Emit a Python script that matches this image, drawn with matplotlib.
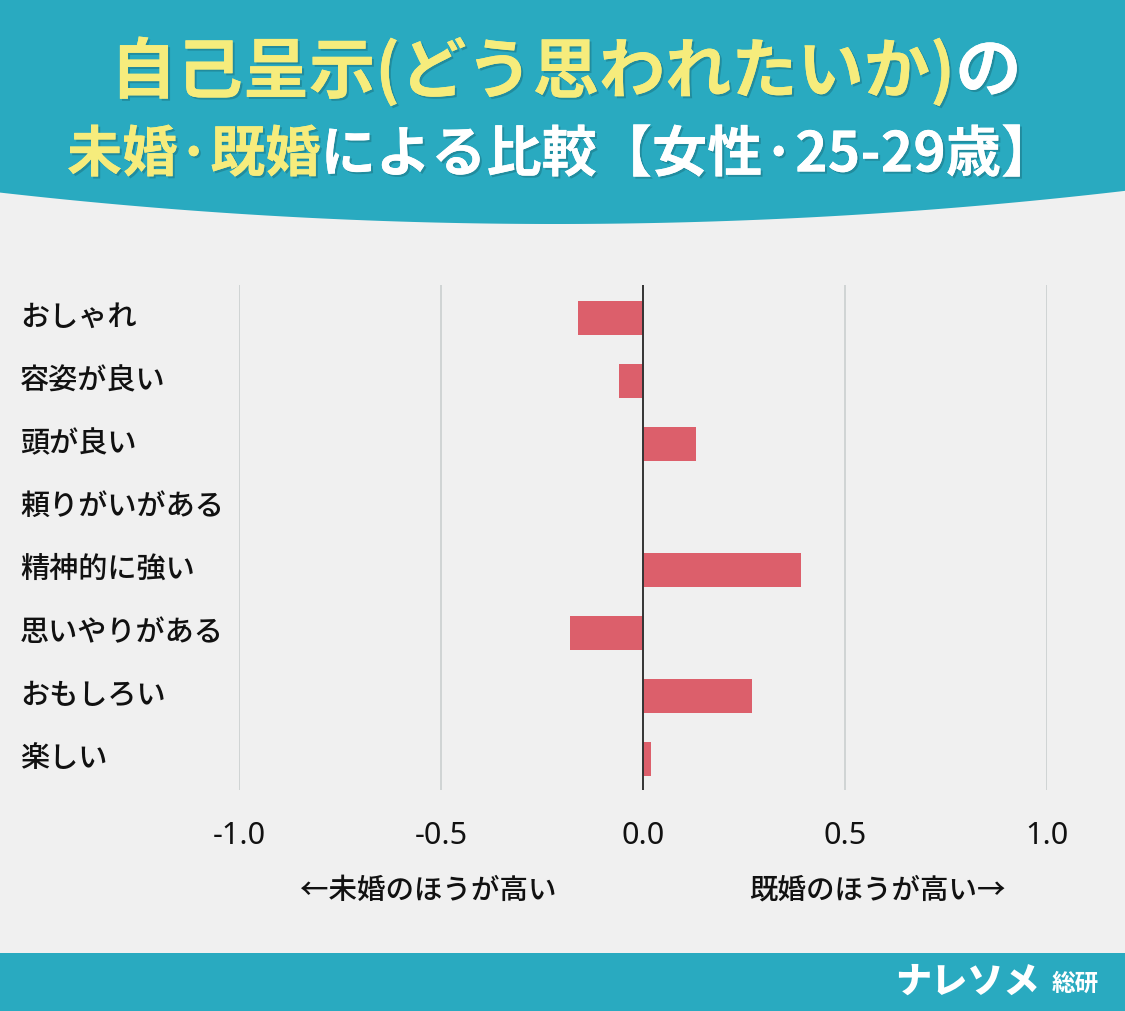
import matplotlib.pyplot as plt
import matplotlib.patheffects as pe
import numpy as np

plt.rcParams['font.family'] = ['Noto Sans CJK JP', 'DejaVu Sans']

# data
labels = ['おしゃれ', '容姿が良い', '頭が良い', '頼りがいがある',
          '精神的に強い', '思いやりがある', 'おもしろい', '楽しい']
values = [-0.16, -0.06, 0.13, 0.0, 0.39, -0.18, 0.27, 0.02]
xticks = [-1.0, -0.5, 0.0, 0.5, 1.0]
xtick_labels = ['-1.0', '-0.5', '0.0', '0.5', '1.0']

title1 = [('自己呈示(どう思われたいか)', '#F6EC7C'), ('の', 'white')]
title2 = [('未婚·既婚', '#F6EC7C'), ('による比較【女性·25-29歳】', 'white')]

W, H = 1125, 1011
bg = '#F0F0F0'
teal = '#29AAC0'
bar_color = '#DC5F6B'
ink = '#111111'

fig = plt.figure(figsize=(W / 100, H / 100), dpi=100, facecolor=bg)

# background layer in pixel coords
bgax = fig.add_axes([0, 0, 1, 1], zorder=0)
bgax.set_xlim(0, W)
bgax.set_ylim(H, 0)
bgax.axis('off')
bgax.set_facecolor(bg)

xs = np.linspace(0, W, 200)
curve = 224 - 32 * ((xs - 555) / 560) ** 2
bgax.fill_between(xs, 0, curve, color=teal, lw=0)
bgax.fill_between([0, W], 953, H, color=teal, lw=0)

# logo
bgax.text(1040, 982, 'ナレソメ', fontsize=26, fontweight='black',
          color='white', ha='right', va='center', style='italic')
bgax.text(1099, 984, '総研', fontsize=17, fontweight='bold',
          color='white', ha='right', va='center')

fig.canvas.draw()
renderer = fig.canvas.get_renderer()
shadow = [pe.withSimplePatchShadow(offset=(1.5, -1.5), shadow_rgbFace='#1a6f7d', alpha=0.5), pe.Normal()]


def draw_line(parts, cx, y, size, target_w):
    ts = []
    for s, c in parts:
        t = bgax.text(0, y, s, fontsize=size, fontweight='bold', color=c,
                      ha='left', va='center', path_effects=shadow)
        ts.append(t)
    widths = [t.get_window_extent(renderer).width for t in ts]
    scale = target_w / sum(widths)
    for t in ts:
        t.set_fontsize(size * scale)
    fig.canvas.draw()
    widths = [t.get_window_extent(renderer).width for t in ts]
    x = cx - sum(widths) / 2
    for t, w in zip(ts, widths):
        t.set_x(x)
        x += w


draw_line(title1, 566, 72, 40, 910)
draw_line(title2, 562, 155, 40, 988)

# chart axes
ax = fig.add_axes([239 / W, 1 - 790 / H, 808 / W, 505 / H], zorder=2)
ax.set_facecolor('none')
y = np.arange(len(labels))
ax.barh(y, values, height=0.54, color=bar_color, zorder=3)
ax.set_xlim(-1.0, 1.0)
ax.set_ylim(len(labels) - 0.5, -0.52)
for xv in xticks:
    if xv == 0:
        ax.axvline(xv, color='#333333', lw=1.4, zorder=4)
    else:
        ax.axvline(xv, color='#CDD1D1', lw=1.3, zorder=1)
for s in ax.spines.values():
    s.set_visible(False)
ax.set_yticks([])
ax.set_xticks(xticks)
ax.set_xticklabels(xtick_labels, fontsize=22, color=ink, family='Noto Sans')
ax.tick_params(axis='x', length=0, pad=22)

for i, lab in enumerate(labels):
    bgax.text(20, 317.5 + i * 63.0, lab, fontsize=21, fontweight='medium',
              color=ink, ha='left', va='center')

bgax.text(300, 890, '←未婚のほうが高い', fontsize=20.5, fontweight='medium',
          color=ink, ha='left', va='center')
bgax.text(1006, 890, '既婚のほうが高い→', fontsize=20.5, fontweight='medium',
          color=ink, ha='right', va='center')

fig.savefig('out.png', dpi=100, facecolor=bg)
